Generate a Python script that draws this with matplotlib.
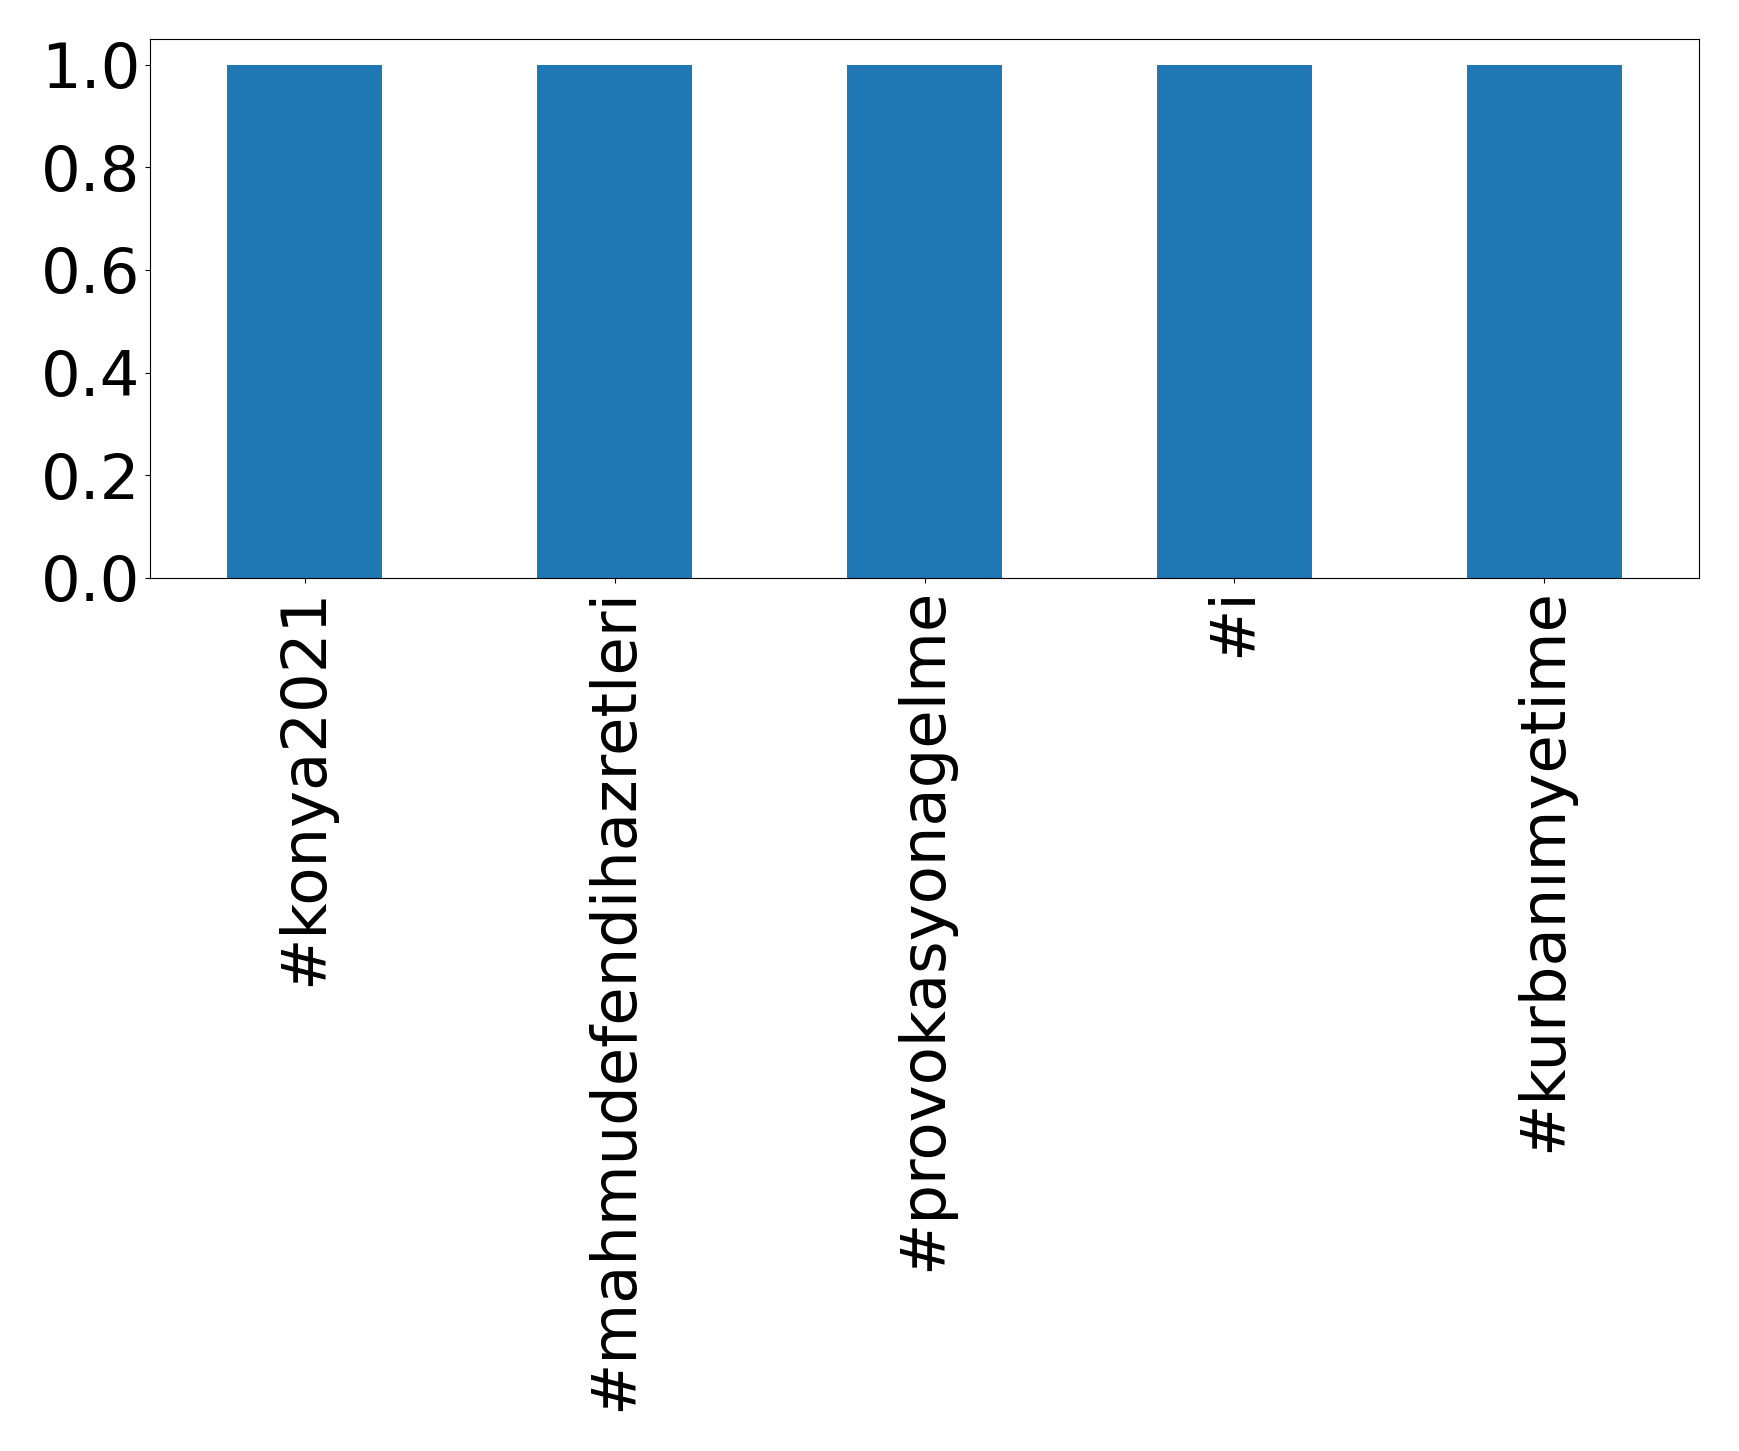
import matplotlib
matplotlib.use("Agg")
from matplotlib import pyplot as plt

hashtags = ["#konya2021", "#mahmudefendihazretleri", "#provokasyonagelme", "#i", "#kurbanımyetime"]
counts = [1, 1, 1, 1, 1]

W, H = 1739, 1451
fig = plt.figure(figsize=(W / 100, H / 100), dpi=100)
ax = fig.add_axes([150 / W, 1 - 578 / H, 1549 / W, 539 / H])

positions = range(len(hashtags))
ax.bar(positions, counts, width=0.5, color="#1f77b4")
ax.set_xlim(-0.5, len(hashtags) - 0.5)
ax.set_ylim(0, 1.05)
ax.set_xticks(list(positions))
ax.set_xticklabels(hashtags, rotation=90, fontsize=45)
ax.set_yticks([0.0, 0.2, 0.4, 0.6, 0.8, 1.0])
ax.set_yticklabels(["0.0", "0.2", "0.4", "0.6", "0.8", "1.0"], fontsize=45)

fig.savefig("out.png", dpi=100)
